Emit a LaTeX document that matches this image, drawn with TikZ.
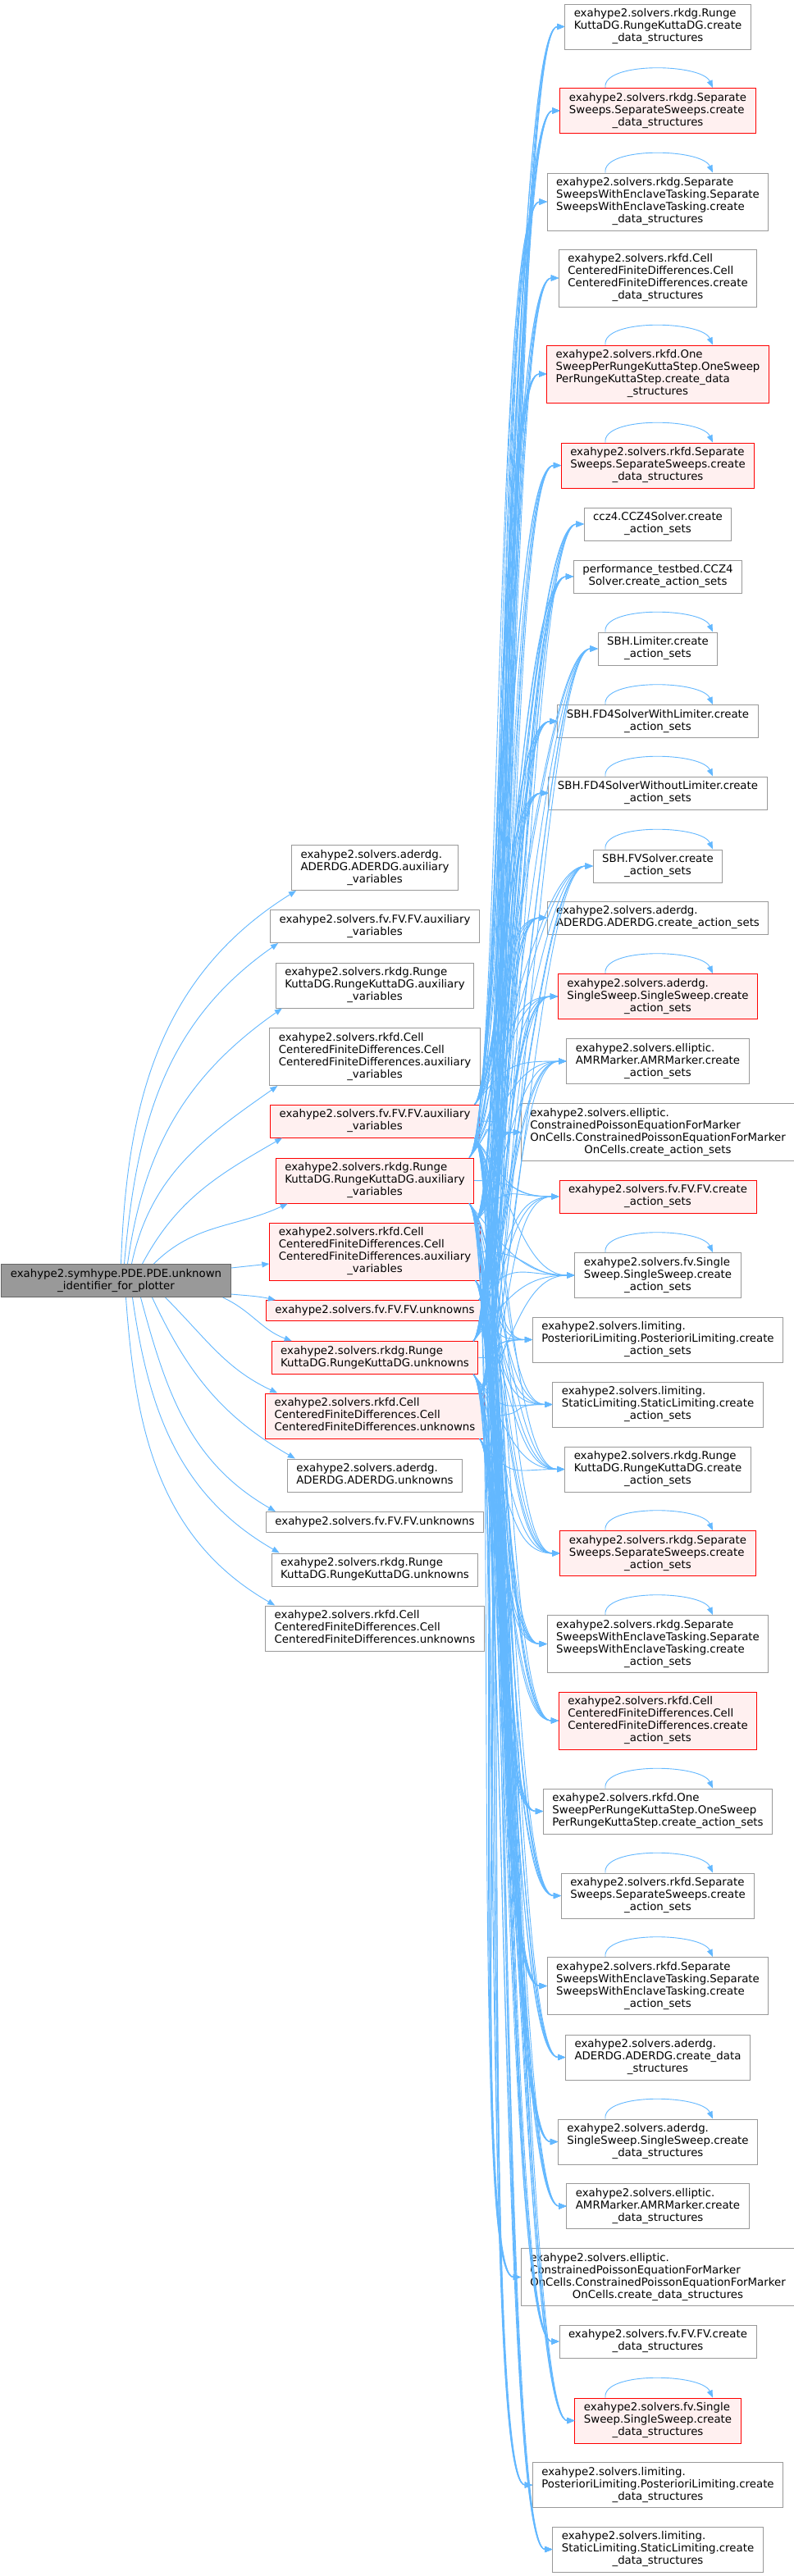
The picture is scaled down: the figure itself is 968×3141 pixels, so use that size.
\documentclass[tikz,border=0pt]{standalone}
\usepackage{fontspec}
\setmainfont{DejaVu Sans}
\usetikzlibrary{arrows.meta}
\definecolor{edgeblue}{HTML}{63B8FF}
\definecolor{nodegray}{HTML}{999999}
\definecolor{rootborder}{HTML}{666666}
\definecolor{redfill}{HTML}{FFF0F0}
\definecolor{redline}{HTML}{FF0000}
\newcommand{\dxl}[2]{\begin{tabular}{@{}l@{}}#1\\\multicolumn{1}{@{}c@{}}{#2}\end{tabular}}
\newcommand{\dxs}[1]{\begin{tabular}{@{}l@{}}#1\end{tabular}}
\begin{document}
\begin{tikzpicture}[x=1pt,y=1pt,
 fn/.style={draw=nodegray, fill=white, line width=1pt, rectangle, inner xsep=11pt, inner ysep=5pt, font=\fontsize{13.33}{15}\selectfont},
 trunc/.style={fn, draw=redline, fill=redfill},
 root/.style={fn, draw=rootborder, fill=nodegray},
 edge/.style={draw=edgeblue, line width=0.9pt, -{Triangle[length=9pt,width=7pt]}},
]
\fill[white] (0,0) rectangle (968,-3141);
\useasboundingbox (0,0) rectangle (968,-3141);

% root
\node[root] (L) at (141.5,-1561.5) {\dxl{exahype2.symhype.PDE.PDE.unknown}{\_identifier\_for\_plotter}};

% middle column
\node[fn] (m1) at (457,-1058) {\dxl{exahype2.solvers.aderdg.\\ADERDG.ADERDG.auxiliary}{\_variables}};
\node[fn] (m2) at (457,-1129.5) {\dxl{exahype2.solvers.fv.FV.FV.auxiliary}{\_variables}};
\node[fn] (m3) at (457,-1201.5) {\dxl{exahype2.solvers.rkdg.Runge\\KuttaDG.RungeKuttaDG.auxiliary}{\_variables}};
\node[fn] (m4) at (457,-1288.5) {\dxl{exahype2.solvers.rkfd.Cell\\CenteredFiniteDifferences.Cell\\CenteredFiniteDifferences.auxiliary}{\_variables}};
\node[trunc] (m5) at (457,-1367) {\dxl{exahype2.solvers.fv.FV.FV.auxiliary}{\_variables}};
\node[trunc] (m6) at (457,-1439.5) {\dxl{exahype2.solvers.rkdg.Runge\\KuttaDG.RungeKuttaDG.auxiliary}{\_variables}};
\node[trunc] (m7) at (457,-1526) {\dxl{exahype2.solvers.rkfd.Cell\\CenteredFiniteDifferences.Cell\\CenteredFiniteDifferences.auxiliary}{\_variables}};
\node[trunc] (m8) at (457,-1598) {\dxs{exahype2.solvers.fv.FV.FV.unknowns}};
\node[trunc] (m9) at (457,-1655.5) {\dxl{exahype2.solvers.rkdg.Runge}{KuttaDG.RungeKuttaDG.unknowns}};
\node[trunc] (m10) at (457,-1726.5) {\dxl{exahype2.solvers.rkfd.Cell\\CenteredFiniteDifferences.Cell}{CenteredFiniteDifferences.unknowns}};
\node[fn] (m11) at (457,-1799) {\dxl{exahype2.solvers.aderdg.}{ADERDG.ADERDG.unknowns}};
\node[fn] (m12) at (457,-1856) {\dxs{exahype2.solvers.fv.FV.FV.unknowns}};
\node[fn] (m13) at (457,-1914) {\dxl{exahype2.solvers.rkdg.Runge}{KuttaDG.RungeKuttaDG.unknowns}};
\node[fn] (m14) at (457,-1985.5) {\dxl{exahype2.solvers.rkfd.Cell\\CenteredFiniteDifferences.Cell}{CenteredFiniteDifferences.unknowns}};

% right column
\node[fn] (r1) at (802,-32.5) {\dxl{exahype2.solvers.rkdg.Runge\\KuttaDG.RungeKuttaDG.create}{\_data\_structures}};
\node[trunc] (r2) at (802,-135) {\dxl{exahype2.solvers.rkdg.Separate\\Sweeps.SeparateSweeps.create}{\_data\_structures}};
\node[fn] (r3) at (802,-246) {\dxl{exahype2.solvers.rkdg.Separate\\SweepsWithEnclaveTasking.Separate\\SweepsWithEnclaveTasking.create}{\_data\_structures}};
\node[fn] (r4) at (802,-339) {\dxl{exahype2.solvers.rkfd.Cell\\CenteredFiniteDifferences.Cell\\CenteredFiniteDifferences.create}{\_data\_structures}};
\node[trunc] (r5) at (802,-456) {\dxl{exahype2.solvers.rkfd.One\\SweepPerRungeKuttaStep.OneSweep\\PerRungeKuttaStep.create\_data}{\_structures}};
\node[trunc] (r6) at (802,-567.5) {\dxl{exahype2.solvers.rkfd.Separate\\Sweeps.SeparateSweeps.create}{\_data\_structures}};
\node[fn] (r7) at (802,-639) {\dxl{ccz4.CCZ4Solver.create}{\_action\_sets}};
\node[fn] (r8) at (802,-703) {\dxl{performance\_testbed.CCZ4}{Solver.create\_action\_sets}};
\node[fn] (r9) at (802,-791) {\dxl{SBH.Limiter.create}{\_action\_sets}};
\node[fn] (r10) at (802,-879.5) {\dxl{SBH.FD4SolverWithLimiter.create}{\_action\_sets}};
\node[fn] (r11) at (802,-967) {\dxl{SBH.FD4SolverWithoutLimiter.create}{\_action\_sets}};
\node[fn] (r12) at (802,-1056) {\dxl{SBH.FVSolver.create}{\_action\_sets}};
\node[fn] (r13) at (802,-1119) {\dxl{exahype2.solvers.aderdg.}{ADERDG.ADERDG.create\_action\_sets}};
\node[trunc] (r14) at (802,-1215) {\dxl{exahype2.solvers.aderdg.\\SingleSweep.SingleSweep.create}{\_action\_sets}};
\node[fn] (r15) at (802,-1294) {\dxl{exahype2.solvers.elliptic.\\AMRMarker.AMRMarker.create}{\_action\_sets}};
\node[fn] (r16) at (802,-1380.5) {\dxl{exahype2.solvers.elliptic.\\ConstrainedPoissonEquationForMarker\\OnCells.ConstrainedPoissonEquationForMarker}{OnCells.create\_action\_sets}};
\node[trunc] (r17) at (802,-1459) {\dxl{exahype2.solvers.fv.FV.FV.create}{\_action\_sets}};
\node[fn] (r18) at (802,-1555) {\dxl{exahype2.solvers.fv.Single\\Sweep.SingleSweep.create}{\_action\_sets}};
\node[fn] (r19) at (802,-1633.5) {\dxl{exahype2.solvers.limiting.\\PosterioriLimiting.PosterioriLimiting.create}{\_action\_sets}};
\node[fn] (r20) at (802,-1712.5) {\dxl{exahype2.solvers.limiting.\\StaticLimiting.StaticLimiting.create}{\_action\_sets}};
\node[fn] (r21) at (802,-1791.5) {\dxl{exahype2.solvers.rkdg.Runge\\KuttaDG.RungeKuttaDG.create}{\_action\_sets}};
\node[trunc] (r22) at (802,-1894) {\dxl{exahype2.solvers.rkdg.Separate\\Sweeps.SeparateSweeps.create}{\_action\_sets}};
\node[fn] (r23) at (802,-2004.5) {\dxl{exahype2.solvers.rkdg.Separate\\SweepsWithEnclaveTasking.Separate\\SweepsWithEnclaveTasking.create}{\_action\_sets}};
\node[trunc] (r24) at (802,-2098) {\dxl{exahype2.solvers.rkfd.Cell\\CenteredFiniteDifferences.Cell\\CenteredFiniteDifferences.create}{\_action\_sets}};
\node[fn] (r25) at (802,-2208.5) {\dxl{exahype2.solvers.rkfd.One\\SweepPerRungeKuttaStep.OneSweep}{PerRungeKuttaStep.create\_action\_sets}};
\node[fn] (r26) at (802,-2311.5) {\dxl{exahype2.solvers.rkfd.Separate\\Sweeps.SeparateSweeps.create}{\_action\_sets}};
\node[fn] (r27) at (802,-2421.5) {\dxl{exahype2.solvers.rkfd.Separate\\SweepsWithEnclaveTasking.Separate\\SweepsWithEnclaveTasking.create}{\_action\_sets}};
\node[fn] (r28) at (802,-2508.5) {\dxl{exahype2.solvers.aderdg.\\ADERDG.ADERDG.create\_data}{\_structures}};
\node[fn] (r29) at (802,-2611.5) {\dxl{exahype2.solvers.aderdg.\\SingleSweep.SingleSweep.create}{\_data\_structures}};
\node[fn] (r30) at (802,-2690) {\dxl{exahype2.solvers.elliptic.\\AMRMarker.AMRMarker.create}{\_data\_structures}};
\node[fn] (r31) at (802,-2776.5) {\dxl{exahype2.solvers.elliptic.\\ConstrainedPoissonEquationForMarker\\OnCells.ConstrainedPoissonEquationForMarker}{OnCells.create\_data\_structures}};
\node[fn] (r32) at (802,-2855) {\dxl{exahype2.solvers.fv.FV.FV.create}{\_data\_structures}};
\node[trunc] (r33) at (802,-2951.5) {\dxl{exahype2.solvers.fv.Single\\Sweep.SingleSweep.create}{\_data\_structures}};
\node[fn] (r34) at (802,-3030) {\dxl{exahype2.solvers.limiting.\\PosterioriLimiting.PosterioriLimiting.create}{\_data\_structures}};
\node[fn] (r35) at (802,-3108.5) {\dxl{exahype2.solvers.limiting.\\StaticLimiting.StaticLimiting.create}{\_data\_structures}};

% root -> middle
\draw[edge] ([xshift=6pt]L.north) to[out=88,in=212] ([xshift=6pt]m1.south west);
\draw[edge] ([xshift=10pt]L.north) to[out=85,in=215] ([xshift=10pt]m2.south west);
\draw[edge] ([xshift=14pt]L.north) to[out=82,in=215] ([xshift=8pt]m3.south west);
\draw[edge] ([xshift=19pt]L.north) to[out=78,in=215] ([xshift=10pt]m4.south west);
\draw[edge] ([xshift=32pt]L.north) to[out=62,in=210] ([xshift=15pt]m5.south west);
\draw[edge] ([xshift=46pt]L.north) to[out=45,in=205] ([xshift=15pt]m6.south west);
\draw[edge] ([yshift=-5pt]L.north east) -- ([yshift=-15pt]m7.west);
\draw[edge] ([yshift=4pt]L.south east) to[out=-5,in=168] ([xshift=12pt]m8.north west);
\draw[edge] ([xshift=-10pt]L.south east) to[out=-25,in=160] ([xshift=25pt]m9.north west);
\draw[edge] ([xshift=60pt]L.south) to[out=-45,in=155] ([xshift=15pt]m10.north west);
\draw[edge] ([xshift=44pt]L.south) to[out=-65,in=150] ([xshift=10pt]m11.north west);
\draw[edge] ([xshift=30pt]L.south) to[out=-75,in=150] ([xshift=12pt]m12.north west);
\draw[edge] ([xshift=20pt]L.south) to[out=-82,in=150] ([xshift=10pt]m13.north west);
\draw[edge] ([xshift=12pt]L.south) to[out=-86,in=150] ([xshift=12pt]m14.north west);

% middle (truncated) -> right
\foreach \r in {1,...,15} \draw[edge] ([xshift=-6pt]m5.north east) .. controls +(40,50) and +(-65,0) .. (r\r.west);
\draw[edge] (m5.east) .. controls +(60,0) and +(-60,0) .. (r16.west);
\foreach \r in {17,...,35} \draw[edge] ([xshift=-6pt]m5.south east) .. controls +(40,-50) and +(-65,0) .. (r\r.west);

\foreach \r in {1,...,16} \draw[edge] ([xshift=-6pt]m6.north east) .. controls +(40,50) and +(-65,0) .. (r\r.west);
\draw[edge] (m6.east) .. controls +(60,0) and +(-60,0) .. (r17.west);
\foreach \r in {18,...,35} \draw[edge] ([xshift=-6pt]m6.south east) .. controls +(40,-50) and +(-65,0) .. (r\r.west);

\foreach \r in {1,...,17} \draw[edge] ([xshift=-6pt]m7.north east) .. controls +(40,50) and +(-65,0) .. (r\r.west);
\draw[edge] (m7.east) .. controls +(60,0) and +(-60,0) .. (r18.west);
\foreach \r in {19,...,35} \draw[edge] ([xshift=-6pt]m7.south east) .. controls +(40,-50) and +(-65,0) .. (r\r.west);

\foreach \r in {1,...,18} \draw[edge] ([xshift=-6pt]m8.north east) .. controls +(40,50) and +(-65,0) .. (r\r.west);
\foreach \r in {19,...,35} \draw[edge] ([xshift=-6pt]m8.south east) .. controls +(40,-50) and +(-65,0) .. (r\r.west);

\foreach \r in {1,...,18} \draw[edge] ([xshift=-6pt]m9.north east) .. controls +(40,50) and +(-65,0) .. (r\r.west);
\draw[edge] (m9.east) .. controls +(60,0) and +(-60,0) .. (r19.west);
\foreach \r in {20,...,35} \draw[edge] ([xshift=-6pt]m9.south east) .. controls +(40,-50) and +(-65,0) .. (r\r.west);

\foreach \r in {1,...,19} \draw[edge] ([xshift=-6pt]m10.north east) .. controls +(40,50) and +(-65,0) .. (r\r.west);
\draw[edge] (m10.east) .. controls +(60,0) and +(-60,0) .. (r20.west);
\foreach \r in {21,...,35} \draw[edge] ([xshift=-6pt]m10.south east) .. controls +(40,-50) and +(-65,0) .. (r\r.west);

% self loops
\foreach \r in {2,3,5,6,9,10,11,12,14,18,22,23,25,26,27,29,33}
  \draw[edge] ([xshift=-64pt]r\r.north) .. controls +(-4,32) and +(-14,30) .. ([xshift=67pt]r\r.north);
\end{tikzpicture}
\end{document}
